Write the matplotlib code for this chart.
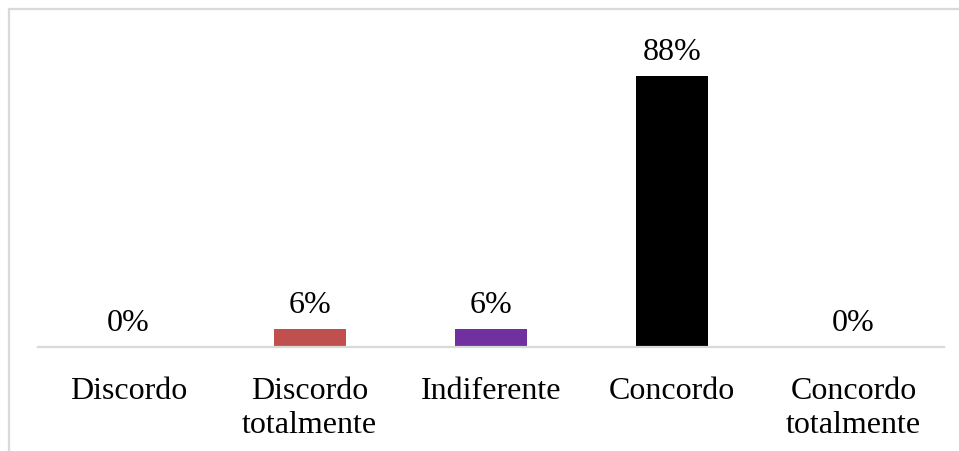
import matplotlib
matplotlib.use("Agg")
import matplotlib.pyplot as plt
from matplotlib.patches import Rectangle

# Survey responses (% of respondents)
categories = ["Discordo", "Discordo\ntotalmente", "Indiferente", "Concordo", "Concordo\ntotalmente"]
values = [0, 6, 6, 88, 0]
labels = ["0%", "6%", "6%", "88%", "0%"]
colors = ["#4F81BD", "#C0504D", "#7030A0", "#000000", "#4BACC6"]

plt.rcParams["font.family"] = ["Liberation Serif", "DejaVu Serif"]

W, H = 959, 452
fig = plt.figure(figsize=(W / 100, H / 100), dpi=100)
fig.patch.set_facecolor("white")

# chart area frame (light grey border)
fig.patches.append(Rectangle((9 / W, -0.1), 1.2, 1.1 - 10 / H,
                             transform=fig.transFigure, fill=False,
                             edgecolor="#d9d9d9", linewidth=1.6))

ax = fig.add_axes([38 / W, 1 - 348 / H, (944 - 38) / W, (348 - 40) / H])
x = list(range(len(categories)))
ax.bar(x, values, width=0.4, color=colors)
ax.set_xlim(-0.5, len(categories) - 0.5)
ax.set_ylim(0, 100)

for xi, v, lab in zip(x, values, labels):
    ax.annotate(lab, (xi, v), xytext=(0, 12), textcoords="offset points",
                ha="center", va="baseline", fontsize=23, color="black")

ax.set_xticks(x)
ax.set_xticklabels(categories, fontsize=23, linespacing=1.22)
ax.tick_params(axis="x", length=0, pad=21)
ax.set_yticks([])
for side in ("top", "right", "left"):
    ax.spines[side].set_visible(False)
ax.spines["bottom"].set_color("#d9d9d9")
ax.spines["bottom"].set_linewidth(1.6)

fig.savefig("out.png", dpi=100, facecolor="white")
